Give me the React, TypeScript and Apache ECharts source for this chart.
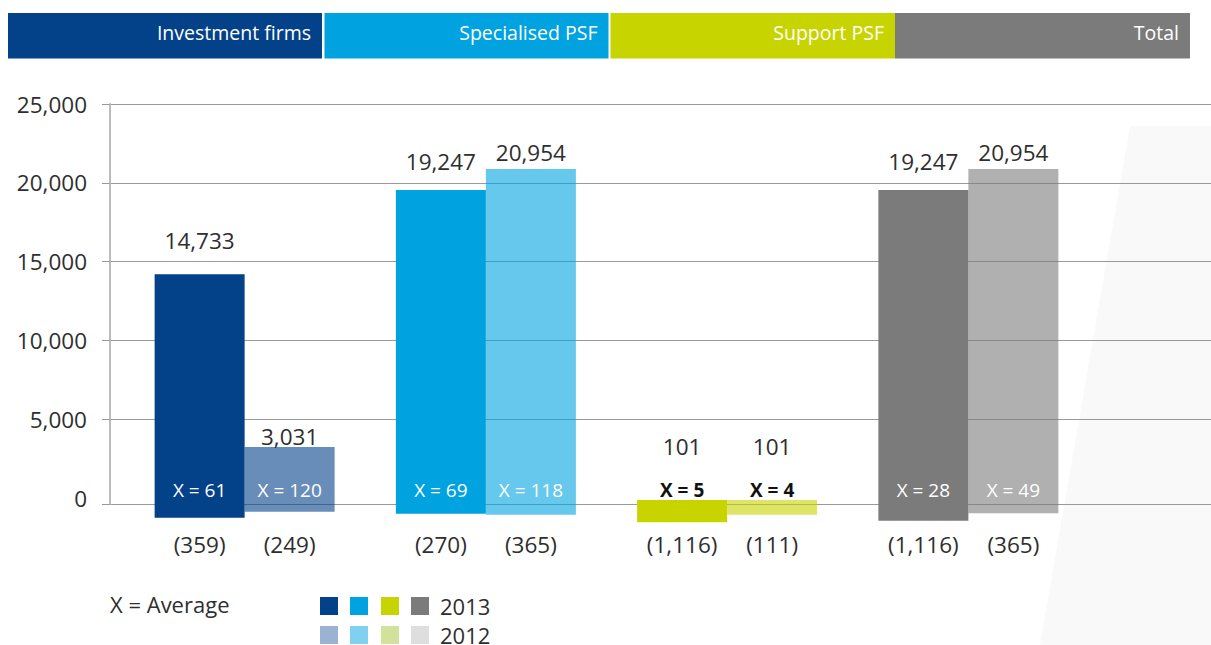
import React, { useEffect, useRef } from 'react';
import * as echarts from 'echarts';

// ---------- data ----------
const categories = ['Investment firms', 'Specialised PSF', 'Support PSF', 'Total'];
const years = ['2013', '2012'];
// bar extents as drawn (top / bottom of each range bar)
const high2013 = [14200, 19550, -120, 19550];
const low2013 = [-1250, -1000, -1540, -1440];
const high2012 = [3240, 20880, -120, 20880];
const low2012 = [-870, -1060, -1060, -970];
// printed maximum / minimum labels
const topLabels2013 = ['14,733', '19,247', '101', '19,247'];
const topLabels2012 = ['3,031', '20,954', '101', '20,954'];
const bottomLabels2013 = ['(359)', '(270)', '(1,116)', '(1,116)'];
const bottomLabels2012 = ['(249)', '(365)', '(111)', '(365)'];
// averages (X)
const average2013 = [61, 69, 5, 28];
const average2012 = [120, 118, 4, 49];
// y axis tick labels
const yTickLabels = [0, 5000, 10000, 15000, 20000, 25000];

// ---------- style ----------
const COLORS = ['#034189', '#00a3e0', '#c8d400', '#7b7b7b'];
const LEGEND_2012 = ['#9ab3d3', '#80d1f0', '#d2e29b', '#dedede'];
const FONT = "'Open Sans', 'Noto Sans', sans-serif";
const TEXT = '#2e2e2e';
const BAR_W = 90;
const Y_MIN = -380; // baseline gridline sits a little below the "0" label
const Y_MAX = 25000;
const TOP_LIFT = [
  [34, 28, 53, 28],
  [10, 16, 53, 16],
];
const AVG_STYLE = [
  { fill: '#ffffff', fontWeight: 'normal' },
  { fill: '#ffffff', fontWeight: 'normal' },
  { fill: '#111111', fontWeight: 'bold' },
  { fill: '#ffffff', fontWeight: 'normal' },
];

const fmt = (v: number) => v.toLocaleString('en-US');

function makeRender(yi: number, tops: string[], bottoms: string[], avgs: number[]) {
  return (params: any, api: any) => {
    const cat = api.value(0);
    const lo = api.value(1);
    const hi = api.value(2);
    const zero = api.coord([cat, 0]);
    const pHi = api.coord([cat, hi]);
    const pLo = api.coord([cat, lo]);
    const x0 = yi === 0 ? zero[0] - BAR_W : zero[0];
    const cx = x0 + BAR_W / 2;
    return {
      type: 'group',
      children: [
        {
          type: 'rect',
          shape: { x: x0, y: pHi[1], width: BAR_W, height: pLo[1] - pHi[1] },
          style: { fill: COLORS[cat], opacity: yi === 0 ? 1 : 0.6 },
        },
        {
          type: 'text',
          x: cx,
          y: pHi[1] - TOP_LIFT[yi][cat],
          style: {
            text: tops[cat],
            fill: TEXT,
            fontSize: 22.5,
            fontFamily: FONT,
            align: 'center',
            verticalAlign: 'middle',
          },
        },
        {
          type: 'text',
          x: cx,
          y: zero[1] - 8,
          style: {
            text: 'X = ' + avgs[cat],
            fill: AVG_STYLE[cat].fill,
            fontWeight: AVG_STYLE[cat].fontWeight,
            fontSize: 19,
            fontFamily: FONT,
            align: 'center',
            verticalAlign: 'middle',
          },
        },
        {
          type: 'text',
          x: cx,
          y: zero[1] + 46,
          style: {
            text: bottoms[cat],
            fill: TEXT,
            fontSize: 22.5,
            fontFamily: FONT,
            align: 'center',
            verticalAlign: 'middle',
          },
        },
      ],
    };
  };
}

// header bands
const BANDS = [
  [8, 322],
  [324.5, 608.5],
  [610.5, 895],
  [895, 1190],
];

function buildGraphic() {
  const els: any[] = [];
  els.push({
    type: 'polygon',
    z: -100,
    shape: { points: [[1130, 126], [1211, 126], [1211, 645], [1040, 645]] },
    style: { fill: '#f9f9f9' },
    silent: true,
  });
  categories.forEach((c, i) => {
    const [a, b] = BANDS[i];
    els.push({
      type: 'rect',
      shape: { x: a, y: 13, width: b - a, height: 45.5 },
      style: { fill: COLORS[i] },
    });
    els.push({
      type: 'text',
      x: b - 11,
      y: 32,
      style: {
        text: c,
        fill: '#ffffff',
        fontSize: 19.5,
        fontFamily: FONT,
        align: 'right',
        verticalAlign: 'middle',
      },
    });
  });
  // legend
  els.push({
    type: 'text',
    x: 110,
    y: 604,
    style: { text: 'X = Average', fill: TEXT, fontSize: 22, fontFamily: FONT, align: 'left', verticalAlign: 'middle' },
  });
  const sqX = [320, 350, 381, 411];
  years.forEach((yr, yi) => {
    const y = yi === 0 ? 597 : 626;
    const cols = yi === 0 ? COLORS : LEGEND_2012;
    cols.forEach((col, i) => {
      els.push({
        type: 'rect',
        shape: { x: sqX[i], y, width: 18, height: 18 },
        style: { fill: col },
      });
    });
    els.push({
      type: 'text',
      x: 440,
      y: y + 8.5,
      style: { text: yr, fill: TEXT, fontSize: 22, fontFamily: FONT, align: 'left', verticalAlign: 'middle' },
    });
  });
  return els;
}

export default function App() {
  const ref = useRef<HTMLDivElement>(null);
  useEffect(() => {
    if (!ref.current) return;
    const chart = echarts.init(ref.current, undefined, { renderer: 'svg' });
    const gridTickValues = [Y_MIN, ...yTickLabels.slice(1)];
    chart.setOption({
      animation: false,
      backgroundColor: '#ffffff',
      textStyle: { fontFamily: FONT },
      grid: [
        { left: 110, right: 0, top: 104, height: 400 },
        { left: 124, width: 965, top: 104, height: 400 },
      ],
      xAxis: [
        { type: 'value', gridIndex: 0, show: false, min: 0, max: 1 },
        { type: 'category', gridIndex: 1, data: categories, show: false },
      ],
      yAxis: [
        {
          type: 'value',
          gridIndex: 0,
          min: Y_MIN,
          max: Y_MAX,
          axisLine: { show: true, lineStyle: { color: '#bcbcbc', width: 2 } },
          axisTick: { show: true, length: 8, inside: false, customValues: gridTickValues, lineStyle: { color: '#999999', width: 1 } },
          axisLabel: {
            customValues: yTickLabels,
            formatter: (v: number) => fmt(v),
            color: TEXT,
            fontSize: 22.5,
            fontFamily: FONT,
            margin: 23,
          },
          splitLine: { show: true, lineStyle: { color: '#999999', width: 1 } },
        },
        { type: 'value', gridIndex: 1, min: Y_MIN, max: Y_MAX, show: false, splitLine: { show: false } },
      ],
      graphic: { elements: buildGraphic() },
      series: [
        {
          type: 'custom',
          name: years[0],
          xAxisIndex: 1,
          yAxisIndex: 1,
          clip: false,
          encode: { x: 0, y: [1, 2] },
          renderItem: makeRender(0, topLabels2013, bottomLabels2013, average2013),
          data: categories.map((_, i) => [i, low2013[i], high2013[i]]),
        },
        {
          type: 'custom',
          name: years[1],
          xAxisIndex: 1,
          yAxisIndex: 1,
          clip: false,
          encode: { x: 0, y: [1, 2] },
          renderItem: makeRender(1, topLabels2012, bottomLabels2012, average2012),
          data: categories.map((_, i) => [i, low2012[i], high2012[i]]),
        },
      ],
    });
    return () => chart.dispose();
  }, []);
  return (
    <div
      ref={ref}
      style={{ position: 'fixed', left: 0, top: 0, width: 1211, height: 645, background: '#fff' }}
    />
  );
}
